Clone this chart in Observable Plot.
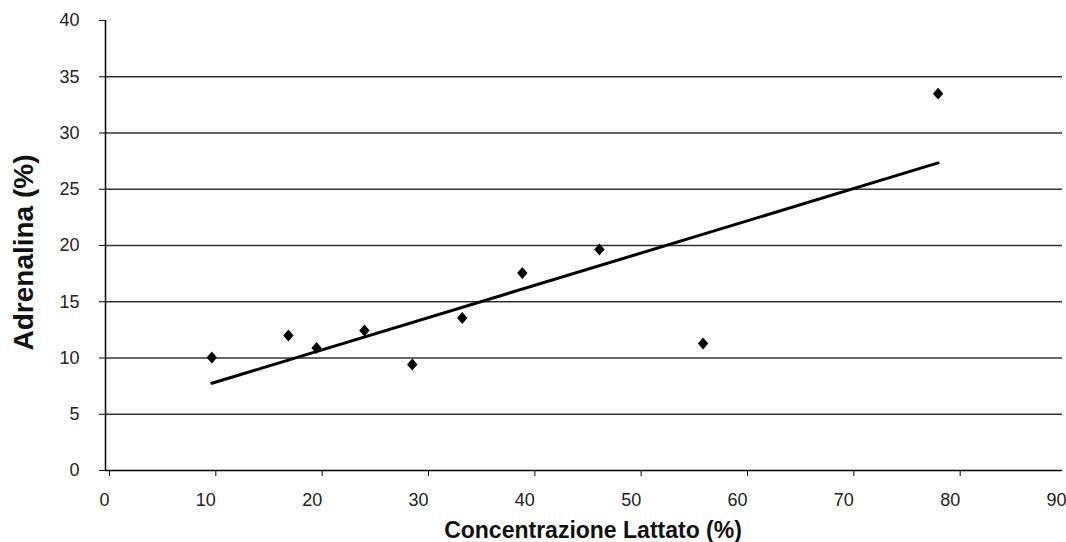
<!DOCTYPE html>
<html>
<head>
<meta charset="utf-8">
<script src="https://cdn.jsdelivr.net/npm/d3@7"></script>
<script src="https://cdn.jsdelivr.net/npm/@observablehq/plot@0.6"></script>
<style>
  html, body { margin: 0; padding: 0; background: #fff; }
  #chart svg { display: block; }
</style>
</head>
<body>
<div id="chart"></div>
<script>
// Data
const lattato = [10.0, 17.2, 19.85, 24.35, 28.85, 33.55, 39.2, 46.45, 56.2, 78.3];
const adrenalina = [10.05, 12.0, 10.9, 12.45, 9.42, 13.55, 17.55, 19.65, 11.28, 33.5];
const xTicks = [0, 10, 20, 30, 40, 50, 60, 70, 80, 90];
const yTicks = [0, 5, 10, 15, 20, 25, 30, 35, 40];
const gridTicks = [5, 10, 15, 20, 25, 30, 35];
const xLabel = "Concentrazione Lattato (%)";
const yLabel = "Adrenalina (%)";

const points = lattato.map((x, i) => ({x, y: adrenalina[i]}));

// Diamond symbol (slightly taller than wide)
const diamond = {
  draw(context, size) {
    const r = Math.sqrt(size / Math.PI);
    const w = r * 1.0, h = r * 1.15;
    context.moveTo(0, -h);
    context.lineTo(w, 0);
    context.lineTo(0, h);
    context.lineTo(-w, 0);
    context.closePath();
  }
};

const chart = Plot.plot({
  width: 1066,
  height: 542,
  marginLeft: 105,
  marginRight: 4,
  marginTop: 20,
  marginBottom: 72,
  style: {fontFamily: "'Liberation Sans', Arial, sans-serif", background: "#fff"},
  x: {domain: [0, 90]},
  y: {domain: [0, 40]},
  marks: [
    Plot.gridY(gridTicks, {stroke: "#333", strokeOpacity: 1, strokeWidth: 1.3}),
    Plot.axisX(xTicks, {tickSize: 6, tickPadding: 17, fontSize: 18, textAnchor: "end", dx: 4, label: null, stroke: "#000", fill: "#222"}),
    Plot.axisY(yTicks, {tickSize: 6, tickPadding: 20, fontSize: 18, label: null, stroke: "#000", fill: "#222"}),
    Plot.ruleX([0], {stroke: "#000", strokeWidth: 1.5}),
    Plot.ruleY([0], {stroke: "#000", strokeWidth: 1.5}),
    Plot.linearRegressionY(points, {x: "x", y: "y", ci: 0, stroke: "#000", strokeWidth: 3}),
    Plot.dot(points, {x: "x", y: "y", symbol: diamond, r: 5.2, fill: "#000", stroke: "none"}),
    Plot.text([xLabel], {frameAnchor: "bottom", textAnchor: "middle", lineAnchor: "bottom", dx: 9, dy: 67, fontSize: 23, fontWeight: "bold", fill: "#111"}),
    Plot.text([yLabel], {frameAnchor: "left", textAnchor: "middle", lineAnchor: "middle", rotate: -90, dx: -81, dy: 7, fontSize: 28, fontWeight: "bold", fill: "#111"})
  ]
});

document.getElementById("chart").appendChild(chart);
</script>
</body>
</html>
